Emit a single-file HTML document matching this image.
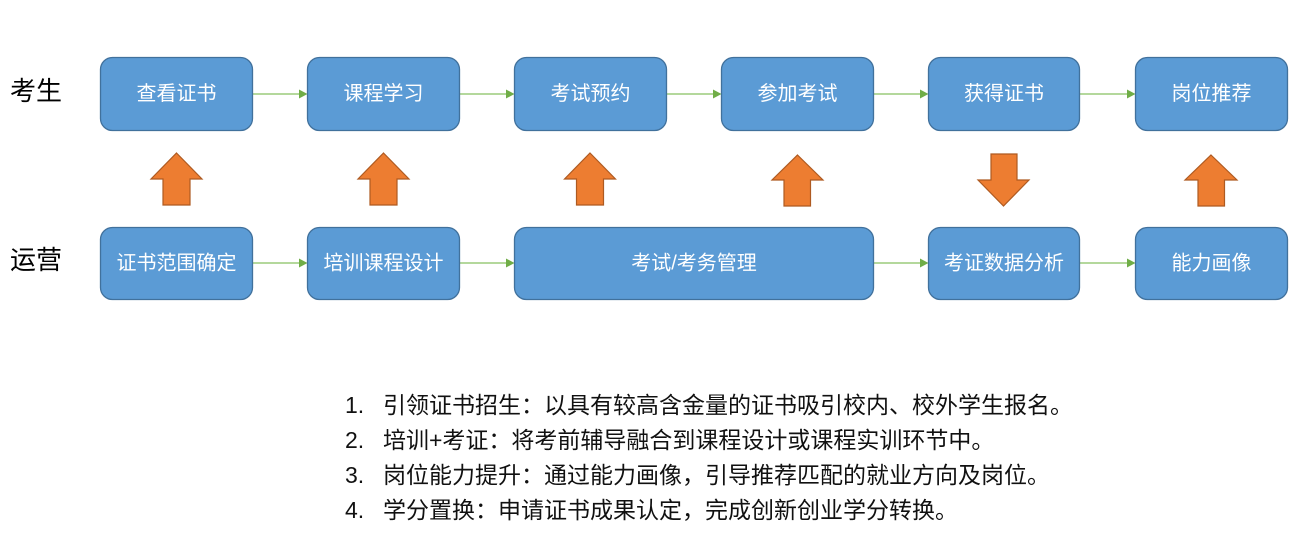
<!DOCTYPE html>
<html>
<head>
<meta charset="utf-8">
<style>
  html,body{margin:0;padding:0;background:#fff;}
  svg{display:block;}
  .bt{font-family:"Liberation Sans","Noto Sans CJK SC",sans-serif;font-size:20px;fill:#fff;text-anchor:middle;dominant-baseline:central;}
  .lb{font-family:"Liberation Sans","Noto Sans CJK SC",sans-serif;font-size:26px;fill:#000;dominant-baseline:central;}
  .li{font-family:"Liberation Sans","Noto Sans CJK SC",sans-serif;font-size:23px;fill:#111;dominant-baseline:central;}
  .box{fill:#5b9bd5;stroke:#41719c;stroke-width:1.3;}
  .oa{fill:#ed7d31;stroke:#ae5a21;stroke-width:1.2;}
  .gl{stroke:#9ccb7c;stroke-width:1.6;}
  .gh{fill:#70ad47;}
</style>
</head>
<body>
<svg width="1300" height="550" viewBox="0 0 1300 550" xmlns="http://www.w3.org/2000/svg">
  <!-- row labels -->
  <text class="lb" x="10" y="91">考生</text>
  <text class="lb" x="10" y="260">运营</text>

  <!-- top row connectors -->
  <line class="gl" x1="252" y1="94" x2="300" y2="94"/><polygon class="gh" points="299,89.5 307.5,94 299,98.5"/>
  <line class="gl" x1="459" y1="94" x2="507" y2="94"/><polygon class="gh" points="506,89.5 514.5,94 506,98.5"/>
  <line class="gl" x1="666" y1="94" x2="714" y2="94"/><polygon class="gh" points="713,89.5 721.5,94 713,98.5"/>
  <line class="gl" x1="873" y1="94" x2="921" y2="94"/><polygon class="gh" points="920,89.5 928.5,94 920,98.5"/>
  <line class="gl" x1="1079" y1="94" x2="1128" y2="94"/><polygon class="gh" points="1127,89.5 1135.5,94 1127,98.5"/>

  <!-- bottom row connectors -->
  <line class="gl" x1="252" y1="263" x2="300" y2="263"/><polygon class="gh" points="299,258.5 307.5,263 299,267.5"/>
  <line class="gl" x1="459" y1="263" x2="507" y2="263"/><polygon class="gh" points="506,258.5 514.5,263 506,267.5"/>
  <line class="gl" x1="873" y1="263" x2="921" y2="263"/><polygon class="gh" points="920,258.5 928.5,263 920,267.5"/>
  <line class="gl" x1="1079" y1="263" x2="1128" y2="263"/><polygon class="gh" points="1127,258.5 1135.5,263 1127,267.5"/>

  <!-- top row boxes -->
  <rect class="box" x="100.5" y="57.5" width="152" height="73" rx="12"/>
  <rect class="box" x="307.5" y="57.5" width="152" height="73" rx="12"/>
  <rect class="box" x="514.5" y="57.5" width="152" height="73" rx="12"/>
  <rect class="box" x="721.5" y="57.5" width="152" height="73" rx="12"/>
  <rect class="box" x="928.5" y="57.5" width="151" height="73" rx="12"/>
  <rect class="box" x="1135.5" y="57.5" width="152" height="73" rx="12"/>

  <text class="bt" x="176.5" y="94">查看证书</text>
  <text class="bt" x="383.5" y="94">课程学习</text>
  <text class="bt" x="590.5" y="94">考试预约</text>
  <text class="bt" x="797.5" y="94">参加考试</text>
  <text class="bt" x="1004" y="94">获得证书</text>
  <text class="bt" x="1211.5" y="94">岗位推荐</text>

  <!-- bottom row boxes -->
  <rect class="box" x="100.5" y="227.5" width="152" height="72" rx="12"/>
  <rect class="box" x="307.5" y="227.5" width="152" height="72" rx="12"/>
  <rect class="box" x="514.5" y="227.5" width="359" height="72" rx="12"/>
  <rect class="box" x="928.5" y="227.5" width="151" height="72" rx="12"/>
  <rect class="box" x="1135.5" y="227.5" width="152" height="72" rx="12"/>

  <text class="bt" x="176.5" y="263.5">证书范围确定</text>
  <text class="bt" x="383.5" y="263.5">培训课程设计</text>
  <text class="bt" x="694" y="263.5">考试/考务管理</text>
  <text class="bt" x="1004" y="263.5">考证数据分析</text>
  <text class="bt" x="1211.5" y="263.5">能力画像</text>

  <!-- orange block arrows -->
  <polygon class="oa" points="176.5,153 202,179 190,179 190,205 163,205 163,179 151,179"/>
  <polygon class="oa" points="383.5,153 409,179 397,179 397,205 370,205 370,179 358,179"/>
  <polygon class="oa" points="590,153 615.5,179 603.5,179 603.5,205 576.5,205 576.5,179 564.5,179"/>
  <polygon class="oa" points="797.5,155 823,180 810.5,180 810.5,206 784,206 784,180 772,180"/>
  <polygon class="oa" points="991,154 1017,154 1017,180 1029,180 1003.5,206 978,180 991,180"/>
  <polygon class="oa" points="1211,155 1237,180 1224.5,180 1224.5,206 1198,206 1198,180 1185,180"/>

  <!-- list -->
  <text class="li" x="345" y="405">1.</text>
  <text class="li" x="383" y="405">引领证书招生：以具有较高含金量的证书吸引校内、校外学生报名。</text>
  <text class="li" x="345" y="440">2.</text>
  <text class="li" x="383" y="440">培训+考证：将考前辅导融合到课程设计或课程实训环节中。</text>
  <text class="li" x="345" y="475">3.</text>
  <text class="li" x="383" y="475">岗位能力提升：通过能力画像，引导推荐匹配的就业方向及岗位。</text>
  <text class="li" x="345" y="510">4.</text>
  <text class="li" x="383" y="510">学分置换：申请证书成果认定，完成创新创业学分转换。</text>
</svg>
</body>
</html>
